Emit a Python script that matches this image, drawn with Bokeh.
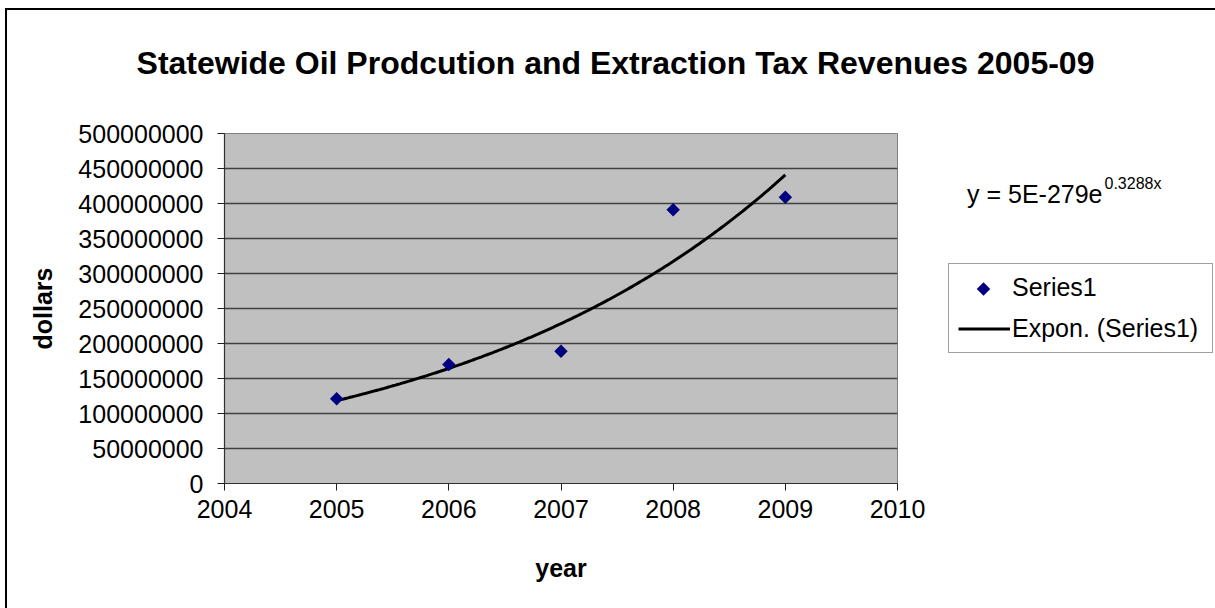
import numpy as np
from bokeh.plotting import figure
from bokeh.layouts import column, row
from bokeh.models import Range1d, FixedTicker, Label, Legend, LegendItem
from bokeh.embed import file_html
from bokeh.resources import INLINE

# ---- data -----------------------------------------------------------------
years = [2005, 2006, 2007, 2008, 2009]
revenue = [121e6, 170e6, 189e6, 391e6, 409e6]   # dollars

x_ticks = [2004, 2005, 2006, 2007, 2008, 2009, 2010]
y_ticks = [0, 50000000, 100000000, 150000000, 200000000, 250000000,
           300000000, 350000000, 400000000, 450000000, 500000000]

series_name = "Series1"
trend_name = "Expon. (Series1)"
trend_coef_text = "5E-279"
trend_rate = 0.3288

title_text = "Statewide Oil Prodcution and Extraction Tax Revenues 2005-09"

# ---- page geometry (pixels from the page's top-left corner) ---------------
FONT = "Liberation Sans"
PAGE_W, PAGE_H = 1215, 608
BOX_X, BOX_Y = 5, 8            # top-left corner of the chart border
PL, PR, PT, PB = 224, 897, 133, 483   # plot area
TOP_BAND = 113                 # bottom of the title band
SPLIT_X = 937                  # left edge of the side panel (equation, legend)

NAVY = "#000080"


def bare_figure(x0, x1, y0, y1, border_top=0, border_bottom=0):
    """Transparent figure without axes; data units are page pixels."""
    f = figure(width=x1 - x0, height=y1 - y0, title=None,
               x_range=Range1d(x0, x1),
               y_range=Range1d(y1 - border_bottom, y0 + border_top),
               x_axis_type=None, y_axis_type=None,
               min_border_left=0, min_border_right=0,
               min_border_top=border_top, min_border_bottom=border_bottom,
               output_backend="svg", toolbar_location=None)
    f.outline_line_color = None
    f.background_fill_color = None
    f.border_fill_color = None
    f.xgrid.visible = False
    f.ygrid.visible = False
    return f


# ---- title band -------------------------------------------------------------
head = bare_figure(0, PAGE_W, 0, TOP_BAND)
head.add_layout(Label(x=615, y=62, text=title_text, text_align="center",
                      text_baseline="alphabetic", text_font=FONT,
                      text_font_style="bold", text_font_size="32px",
                      text_color="black"))

# ---- main chart -------------------------------------------------------------
p = figure(width=SPLIT_X, height=PAGE_H - TOP_BAND, title=None,
           x_range=Range1d(x_ticks[0], x_ticks[-1]),
           y_range=Range1d(y_ticks[0], y_ticks[-1]),
           output_backend="svg", toolbar_location=None,
           min_border_left=PL, min_border_right=SPLIT_X - PR,
           min_border_top=PT - TOP_BAND, min_border_bottom=PAGE_H - PB)
p.background_fill_color = "#c0c0c0"
p.border_fill_color = None
p.outline_line_color = "#808080"
p.outline_line_width = 1

p.xaxis.ticker = FixedTicker(ticks=x_ticks)
p.yaxis.ticker = FixedTicker(ticks=y_ticks)
p.xaxis.major_label_overrides = {t: str(t) for t in x_ticks}
p.yaxis.major_label_overrides = {t: str(t) for t in y_ticks}
for ax in (p.xaxis, p.yaxis):
    ax.major_label_text_font = FONT
    ax.major_label_text_font_size = "25px"
    ax.major_label_text_color = "black"
    ax.major_tick_out = 7
    ax.major_tick_in = 0
    ax.minor_tick_line_color = None
    ax.major_tick_line_color = "#202020"
    ax.axis_line_color = "#303030"
    ax.axis_line_width = 1.2
    ax.axis_label_text_font = FONT
    ax.axis_label_text_font_style = "bold"
    ax.axis_label_text_font_size = "25px"
    ax.axis_label_text_color = "black"
p.xaxis.axis_label = "year"
p.yaxis.axis_label = "dollars"
p.yaxis.major_label_standoff = 14
p.xaxis.major_label_standoff = 9
p.yaxis.axis_label_standoff = 18
p.xaxis.axis_label_standoff = 33

p.xgrid.grid_line_color = None
p.ygrid.ticker = FixedTicker(ticks=y_ticks)
p.ygrid.grid_line_color = "#404040"
p.ygrid.grid_line_width = 1.3

# exponential trend: rate from the equation, level fitted to the data
log_level = np.mean(np.log(revenue)) - trend_rate * np.mean(years)
tx = np.linspace(years[0], years[-1], 200)
ty = np.exp(log_level + trend_rate * tx)
p.line(tx, ty, line_color="black", line_width=3)

p.scatter(years, revenue, marker="square", angle=np.pi / 4, size=9.5,
          fill_color=NAVY, line_color=None)

# ---- side panel: trend equation and legend --------------------------------
side = bare_figure(SPLIT_X, PAGE_W, TOP_BAND, PAGE_H,
                   border_top=PT - TOP_BAND, border_bottom=PAGE_H - PB)

side.add_layout(Label(x=1102, y=193, text=f"y = {trend_coef_text}e",
                      text_align="right", text_baseline="alphabetic",
                      text_font=FONT, text_font_size="25px",
                      text_color="black"))
side.add_layout(Label(x=1104, y=183, text=f"{trend_rate}x",
                      text_align="left", text_baseline="alphabetic",
                      text_font=FONT, text_font_size="16px",
                      text_color="black"))

# legend keys: styled renderers that hold no drawable point
LEG_X, LEG_BOTTOM = 948, 353
PAD, GLYPH_W, ROW_H, GAP = 9, 52, 29, 12
key_pts = side.scatter(x=[np.nan], y=[np.nan], marker="square", size=1,
                       fill_alpha=0, line_alpha=0)
key_line = side.line(x=[np.nan, np.nan], y=[np.nan, np.nan],
                     line_color="black", line_width=3)
legend = Legend(items=[LegendItem(label=series_name, renderers=[key_pts]),
                       LegendItem(label=trend_name, renderers=[key_line])],
                location=(LEG_X - SPLIT_X, PB - LEG_BOTTOM),
                label_text_font=FONT, label_text_font_size="25px",
                label_text_color="black",
                glyph_width=GLYPH_W, glyph_height=ROW_H, label_height=ROW_H,
                label_width=191, label_standoff=2, padding=PAD, spacing=GAP,
                margin=0, border_line_color="#404040", border_line_width=1,
                background_fill_alpha=0)
side.add_layout(legend)
# diamond key for the point series, centred in the first legend row
leg_top = LEG_BOTTOM - (2 * PAD + 2 * ROW_H + GAP)
side.scatter(x=[LEG_X + PAD + GLYPH_W / 2], y=[leg_top + PAD + ROW_H / 2],
             marker="square", angle=np.pi / 4, size=9.5,
             fill_color=NAVY, line_color=None)

page = column(head, row(p, side))
# white page with the chart's top and left border lines
page.styles = {
    "background": (
        f"linear-gradient(#000, #000) {BOX_X}px {BOX_Y}px / 100% 2px no-repeat, "
        f"linear-gradient(#000, #000) {BOX_X}px {BOX_Y}px / 2px 100% no-repeat, "
        "#ffffff"
    ),
}

open("out.html", "w").write(file_html(page, INLINE))
